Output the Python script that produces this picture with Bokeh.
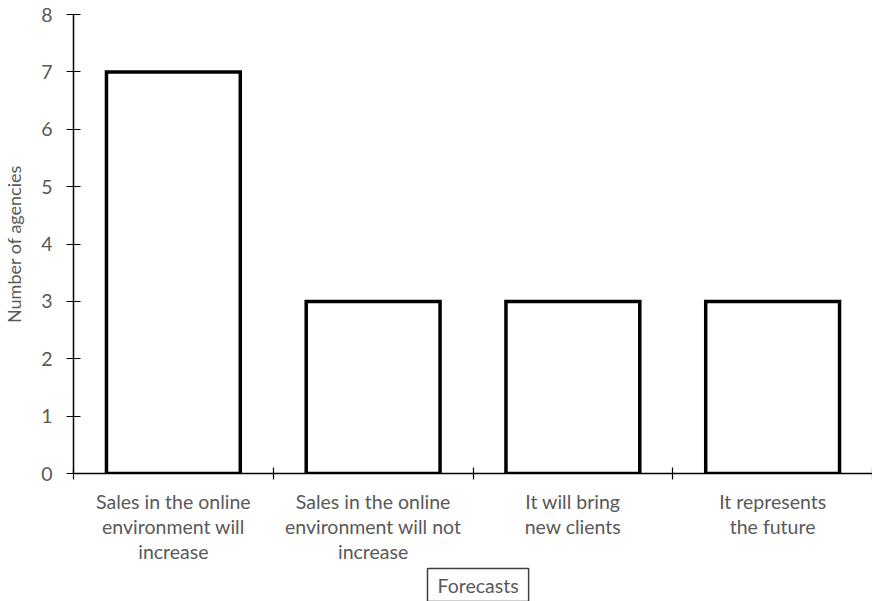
from bokeh.plotting import figure
from bokeh.models import FixedTicker, Range1d, Title
from bokeh.embed import file_html
from bokeh.resources import INLINE

categories = ["Sales in the online\nenvironment will\nincrease",
              "Sales in the online\nenvironment will not\nincrease",
              "It will bring\nnew clients",
              "It represents\nthe future"]
values = [7, 3, 3, 3]
y_ticks = [0, 1, 2, 3, 4, 5, 6, 7, 8]
x_title = "Forecasts"
y_title = "Number of agencies"

FONT = "Lato"
GRAY = "#595959"
W, H = 872, 601

xs = [i + 0.5 for i in range(len(categories))]

p = figure(width=W, height=H, output_backend="svg", toolbar_location=None,
           x_range=Range1d(0, len(categories)), y_range=Range1d(0, 8),
           min_border_left=65, min_border_top=14, min_border_bottom=100, min_border_right=0)
p.outline_line_color = None
p.xgrid.grid_line_color = None
p.ygrid.grid_line_color = None
p.background_fill_color = "white"
p.border_fill_color = "white"

p.vbar(x=xs, top=values, bottom=0, width=0.67, fill_color="white",
       line_color="black", line_width=3.5, line_join="miter")

# x axis
xa = p.xaxis[0]
xa.ticker = FixedTicker(ticks=xs, minor_ticks=list(range(len(categories) + 1)))
xa.major_label_overrides = {x: c for x, c in zip(xs, categories)}
xa.major_tick_line_color = None
xa.major_tick_in = 0
xa.major_tick_out = 0
xa.minor_tick_in = 6
xa.minor_tick_out = 6
xa.minor_tick_line_color = "black"
xa.minor_tick_line_width = 1.2
xa.axis_line_color = "black"
xa.axis_line_width = 1.5
xa.major_label_text_font = FONT
xa.major_label_text_font_size = "19.5px"
xa.major_label_text_color = GRAY
xa.major_label_text_line_height = 1.1
xa.major_label_standoff = 10
xa.major_label_orientation = "horizontal"

# y axis
ya = p.yaxis[0]
ya.ticker = FixedTicker(ticks=y_ticks, minor_ticks=[])
ya.major_tick_in = 7
ya.major_tick_out = 7
ya.major_tick_line_color = "black"
ya.major_tick_line_width = 1.2
ya.axis_line_color = "black"
ya.axis_line_width = 1.5
ya.major_label_text_font = FONT
ya.major_label_text_font_size = "19.5px"
ya.major_label_text_color = GRAY
ya.major_label_standoff = 14
ya.axis_label = y_title
ya.axis_label_text_font = FONT
ya.axis_label_text_font_size = "18px"
ya.axis_label_text_font_style = "normal"
ya.axis_label_text_color = GRAY
ya.axis_label_standoff = 13

t = Title(text=x_title, align="left", offset=354, standoff=0,
          text_font=FONT, text_font_size="19.5px", text_font_style="normal",
          text_color=GRAY, border_line_color="#404040", border_line_width=1.5,
          background_fill_color="white",
          padding=dict(top=5, right=10, bottom=5, left=10))
p.add_layout(t, "below")

open("out.html", "w").write(file_html(p, INLINE))
